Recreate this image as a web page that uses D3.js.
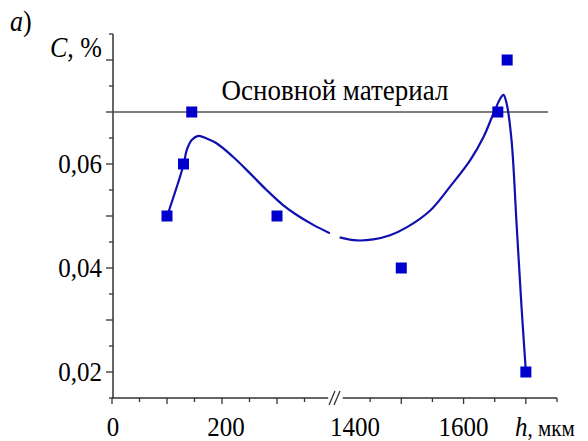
<!DOCTYPE html>
<html><head><meta charset="utf-8">
<script src="https://cdn.jsdelivr.net/npm/d3@7"></script>
<style>
body{margin:0;background:#fff;}
svg{display:block;}
</style></head>
<body>
<svg id="c" width="588" height="441"></svg>
<script>
// ---- data ----
const pointsX = [100, 130, 145, 300, 1500, 1655, 1670, 1700];
const pointsY = [0.05, 0.06, 0.07, 0.05, 0.04, 0.07, 0.08, 0.02];
const curveLeftX = [100, 130, 136, 145, 157, 172, 190, 220, 251, 281, 311, 336, 366, 396];
const curveLeftY = [0.0499, 0.0598, 0.0627, 0.0646, 0.0654, 0.0649, 0.0640, 0.0614, 0.0582, 0.0550, 0.0521, 0.0502, 0.0483, 0.0467];
const curveRightX = [1401, 1429, 1455, 1482, 1510, 1546, 1578, 1611, 1632, 1648, 1659, 1664, 1669, 1677, 1685, 1693, 1700];
const curveRightY = [0.0459, 0.0453, 0.0455, 0.0463, 0.0479, 0.0510, 0.0556, 0.0608, 0.0652, 0.0697, 0.0726, 0.0733, 0.0717, 0.0646, 0.0487, 0.0326, 0.0201];
const baseLevel = 0.07;
const baseLabel = "Основной материал";
const yTickLabels = ["0,02", "0,04", "0,06"];
const yTickValues = [0.02, 0.04, 0.06];
const xLeftTicks = [0, 200];
const xRightTicks = [1400, 1600];

const svg = d3.select("#c");
const FONT = "'Liberation Serif', 'Times New Roman', serif";
const xL = d3.scaleLinear().domain([0, 400]).range([112, 332]);
const xR = d3.scaleLinear().domain([1400, 1750]).range([339, 557]);
const y = d3.scaleLinear().domain([0.015, 0.085]).range([398, 34]);
const xAny = v => v < 1000 ? xL(v) : xR(v);

const axisColor = "#333";
const fs = 25;
const SY = 1.1;
function txt(x, yy, size, anchor){
  return svg.append("text")
    .attr("transform", `translate(${x},${yy}) scale(1,${SY})`)
    .attr("text-anchor", anchor || "start")
    .style("font-family", FONT).style("font-size", size + "px")
    .attr("fill", "#000");
}
// y axis
svg.append("line").attr("x1",113).attr("x2",113).attr("y1",y(0.085)).attr("y2",y(0.015))
  .attr("stroke",axisColor).attr("stroke-width",1.5);
d3.range(0.015, 0.0851, 0.005).forEach(v=>{
  const major = Math.abs(Math.round(v*100)-v*100) < 1e-6;
  svg.append("line").attr("x1",113).attr("x2",major?106:109).attr("y1",y(v)).attr("y2",y(v))
    .attr("stroke",axisColor).attr("stroke-width",1.3);
});
yTickValues.forEach((v,i)=>{
  txt(102, y(v)+9, fs, "end").text(yTickLabels[i]);
});
// x axis
svg.append("line").attr("x1",112).attr("x2",xL(393)).attr("y1",398).attr("y2",398)
  .attr("stroke",axisColor).attr("stroke-width",1.5);
svg.append("line").attr("x1",xR(1406)).attr("x2",xR(1750)).attr("y1",398).attr("y2",398)
  .attr("stroke",axisColor).attr("stroke-width",1.5);
d3.range(0, 351, 50).forEach(v=>{
  svg.append("line").attr("x1",xL(v)).attr("x2",xL(v)).attr("y1",398).attr("y2",v%100===0?404:402)
    .attr("stroke",axisColor).attr("stroke-width",1.3);
});
d3.range(1450, 1751, 50).forEach(v=>{
  svg.append("line").attr("x1",xR(v)).attr("x2",xR(v)).attr("y1",398).attr("y2",v%100===0?404:402)
    .attr("stroke",axisColor).attr("stroke-width",1.3);
});
// break marks
[0,5].forEach(o=>{
  svg.append("line").attr("x1",329+o).attr("x2",335+o).attr("y1",405).attr("y2",391)
    .attr("stroke",axisColor).attr("stroke-width",1.3);
});
xLeftTicks.forEach(v=>{
  txt(xL(v)+(v>0?4:1), 436, fs, "middle").text(String(v));
});
xRightTicks.forEach(v=>{
  txt(xR(v)+(v===1400?16:0), 436, fs, "middle").text(String(v));
});
const hl = txt(515, 436, fs);
hl.append("tspan").attr("font-style","italic").text("h");
hl.append("tspan").style("font-size","21px").text(", мкм");

// base level line
svg.append("line").attr("x1",113).attr("x2",548).attr("y1",y(baseLevel)).attr("y2",y(baseLevel))
  .attr("stroke","#555").attr("stroke-width",1.5);
txt(335, 100, 27, "middle").text(baseLabel);

// curve
const line = d3.line().x(d=>d[0]).y(d=>d[1]).curve(d3.curveCatmullRom.alpha(0.5));
const leftPts = curveLeftX.map((v,i)=>[xL(v), y(curveLeftY[i])]);
const rightPts = curveRightX.map((v,i)=>[xR(v), y(curveRightY[i])]);
[leftPts, rightPts].forEach(p=>{
  svg.append("path").attr("d",line(p)).attr("fill","none").attr("stroke","#1010b0").attr("stroke-width",2.2);
});

// markers
const s = 11;
pointsX.forEach((v,i)=>{
  svg.append("rect").attr("x",xAny(v)-s/2).attr("y",y(pointsY[i])-s/2).attr("width",s).attr("height",s)
    .attr("fill","#0000cc");
});

// labels
const cl = txt(50, 57, 26);
cl.append("tspan").attr("font-style","italic").text("C");
cl.append("tspan").text(", %");
const al = txt(10, 31, 26);
al.append("tspan").attr("font-style","italic").text("a");
al.append("tspan").text(")");
</script>
</body></html>
